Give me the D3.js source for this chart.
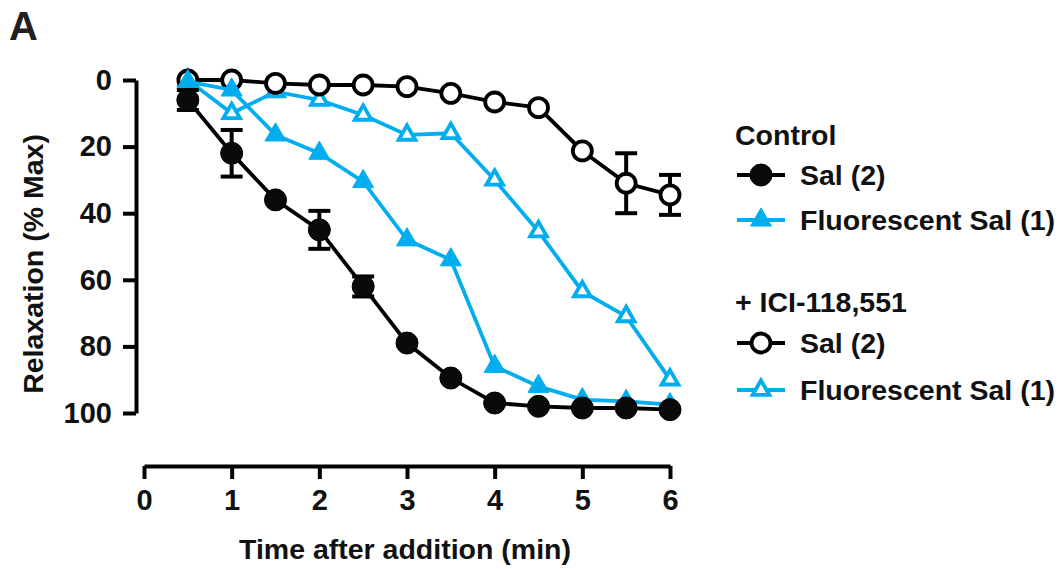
<!DOCTYPE html>
<html>
<head>
<meta charset="utf-8">
<script src="https://cdn.jsdelivr.net/npm/d3@7"></script>
<style>
  body { margin: 0; background: #fff; }
  svg text { font-family: "Liberation Sans", Arial, Helvetica, sans-serif; font-weight: bold; fill: #111; }
</style>
</head>
<body>
<div class="wrapper"></div>
<script>
const times = [0.5, 1, 1.5, 2, 2.5, 3, 3.5, 4, 4.5, 5, 5.5, 6]
const salControl = [6, 22, 36, 45, 62, 79, 89.5, 97, 98, 98.5, 98.5, 99]
const salControlErr = [3, 7, 0, 5.7, 3, 0, 0, 0, 0, 0, 0, 0]
const fluorControl = [0.5, 3, 16.5, 22, 30.5, 48, 54, 86, 92, 96, 96.5, 97.5]
const salIci = [0, 0, 1, 1.5, 1.5, 2, 4, 6.6, 8.3, 21.3, 31, 34.5]
const salIciErr = [0, 0, 0, 0, 0, 0, 0, 0, 0, 0, 9, 6]
const fluorIci = [0, 10, 3.5, 6, 10.5, 16.5, 16, 30, 45.5, 63.5, 71, 90]
const xTicks = [0, 1, 2, 3, 4, 5, 6]
const yTicks = [0, 20, 40, 60, 80, 100]

const blue = "#00adef"
const black = "#000"

const width = 1062
const height = 569

const svg = d3.select(".wrapper")
  .append("svg")
  .attr("width", width)
  .attr("height", height)

const x = d3.scaleLinear().domain([0, 6]).range([144, 670])
const y = d3.scaleLinear().domain([0, 100]).range([80, 413])

// axes
const yAxis = svg.append("g")
  .attr("transform", "translate(136,0)")
  .call(d3.axisLeft(y).tickValues(yTicks).tickFormat(d3.format("d"))
    .tickSize(13).tickSizeOuter(0).tickPadding(11))
const xAxis = svg.append("g")
  .attr("transform", "translate(0,466)")
  .call(d3.axisBottom(x).tickValues(xTicks).tickFormat(d3.format("d"))
    .tickSize(13).tickSizeOuter(0).tickPadding(10))

;[yAxis, xAxis].forEach(ax => {
  ax.attr("font-size", null).attr("font-family", null)
  ax.selectAll("path, line").attr("stroke", black).attr("stroke-width", 4)
  ax.selectAll("text").style("font-size", "29px").attr("fill", "#111")
})

svg.append("text")
  .attr("transform", "translate(43,264) rotate(-90)")
  .attr("text-anchor", "middle")
  .style("font-size", "28.5px")
  .text("Relaxation (% Max)")

svg.append("text")
  .attr("x", 405)
  .attr("y", 559)
  .attr("text-anchor", "middle")
  .style("font-size", "28.5px")
  .text("Time after addition (min)")

svg.append("text")
  .attr("x", 9)
  .attr("y", 40)
  .style("font-size", "40px")
  .style("fill", "#231f20")
  .text("A")

// series, bottom to top
const series = [
  {name: "fluorIci", values: fluorIci, err: null, color: blue, shape: "triangle", filled: false},
  {name: "salIci", values: salIci, err: salIciErr, color: black, shape: "circle", filled: false},
  {name: "fluorControl", values: fluorControl, err: null, color: blue, shape: "triangle", filled: true},
  {name: "salControl", values: salControl, err: salControlErr, color: black, shape: "circle", filled: true},
]

const line = d3.line()
  .x(d => x(d.t))
  .y(d => y(d.v))

function drawMarker(g, s) {
  if (s.shape === "circle") {
    g.append("circle")
      .attr("r", s.filled ? 11 : 9.5)
      .attr("fill", s.filled ? "#0a0a0a" : "#fff")
      .attr("stroke", s.color)
      .attr("stroke-width", s.filled ? 1 : 3.8)
  } else {
    g.append("path")
      .attr("d", d3.symbol(d3.symbolTriangle, s.filled ? 190 : 120)())
      .attr("fill", s.filled ? s.color : "#fff")
      .attr("stroke", s.color)
      .attr("stroke-width", s.filled ? 1 : 3.8)
      .attr("stroke-linejoin", "miter")
  }
}

series.forEach(s => {
  const pts = times.map((t, i) => ({t, v: s.values[i], e: s.err ? s.err[i] : 0}))
  const g = svg.append("g").attr("class", s.name)

  g.append("path")
    .datum(pts)
    .attr("d", line)
    .attr("fill", "none")
    .attr("stroke", s.color)
    .attr("stroke-width", 3.8)

  pts.filter(d => d.e > 0).forEach(d => {
    const eb = g.append("g").attr("stroke", s.color).attr("stroke-width", 4)
    eb.append("line")
      .attr("x1", x(d.t)).attr("x2", x(d.t))
      .attr("y1", y(d.v - d.e)).attr("y2", y(d.v + d.e))
    ;[d.v - d.e, d.v + d.e].forEach(v => {
      eb.append("line")
        .attr("x1", x(d.t) - 11).attr("x2", x(d.t) + 11)
        .attr("y1", y(v)).attr("y2", y(v))
    })
  })

  pts.forEach(d => {
    const m = g.append("g").attr("transform", `translate(${x(d.t)},${y(d.v)})`)
    drawMarker(m, s)
  })
})

// legend
const legend = svg.append("g")
const legendHeads = [
  {label: "Control", y: 145},
  {label: "+ ICI-118,551", y: 312},
]
const legendRows = [
  {label: "Sal (2)", y: 175, s: series[3]},
  {label: "Fluorescent Sal (1)", y: 220, s: series[2]},
  {label: "Sal (2)", y: 343, s: series[1]},
  {label: "Fluorescent Sal (1)", y: 390, s: series[0]},
]
legendHeads.forEach(h => {
  legend.append("text")
    .attr("x", 735)
    .attr("y", h.y)
    .style("font-size", "28.5px")
    .text(h.label)
})
legendRows.forEach(r => {
  legend.append("line")
    .attr("x1", 737).attr("x2", 785)
    .attr("y1", r.y).attr("y2", r.y)
    .attr("stroke", r.s.color)
    .attr("stroke-width", 3.8)
  const m = legend.append("g").attr("transform", `translate(761,${r.y})`)
  drawMarker(m, r.s)
  legend.append("text")
    .attr("x", 800)
    .attr("y", r.y + 10)
    .style("font-size", "28.5px")
    .text(r.label)
})
</script>
</body>
</html>
